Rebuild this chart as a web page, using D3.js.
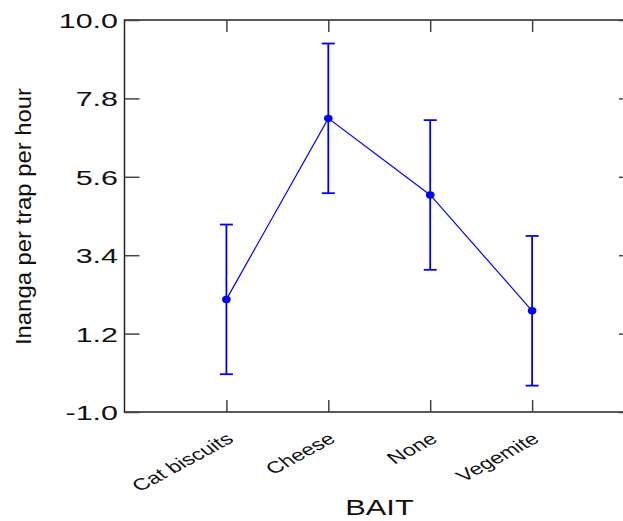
<!DOCTYPE html>
<html>
<head>
<meta charset="utf-8">
<script src="https://cdn.jsdelivr.net/npm/d3@7"></script>
<style>
  html, body { margin: 0; padding: 0; background: #fff; }
  svg { display: block; font-family: "Liberation Sans", Arial, sans-serif; }
</style>
</head>
<body>
<svg id="chart" width="623" height="521"></svg>
<script>
// Bait types and mean catch with error half-widths
const baits = ["Cat biscuits", "Cheese", "None", "Vegemite"];
const means = [2.16, 7.24, 5.09, 1.84];
const errs = [2.1, 2.1, 2.1, 2.1];
const yTicks = [-1.0, 1.2, 3.4, 5.6, 7.8, 10.0];

const svg = d3.select("#chart");
const plotL = 124.5, plotR = 634, plotT = 20, plotB = 412;
const blue = "#0000ff";
const textStretch = 1.45;

const x = d3.scaleLinear().domain([0, baits.length + 1]).range([plotL, plotR]);
const y = d3.scaleLinear().domain([-1, 10]).range([plotB, plotT]);
const catPos = baits.map((_, i) => i + 1);

// frame
svg.append("rect")
  .attr("x", plotL).attr("y", plotT)
  .attr("width", plotR - plotL).attr("height", plotB - plotT)
  .attr("fill", "none").attr("stroke", "#222").attr("stroke-width", 1.5);

function styleAxis(g) {
  g.select(".domain").remove();
  g.selectAll(".tick line").attr("stroke", "#444").attr("stroke-width", 1.5);
}

// left axis with labels
svg.append("g")
  .attr("transform", `translate(${plotL},0)`)
  .call(d3.axisLeft(y).tickValues(yTicks).tickSize(-15).tickSizeOuter(0)
    .tickFormat(d => d.toFixed(1)))
  .call(styleAxis)
  .call(g => g.selectAll(".tick text")
    .attr("x", null).attr("dy", "0.36em")
    .attr("transform", `translate(-6.5,0) scale(${textStretch},1)`)
    .attr("font-size", 21).attr("fill", "#111")
    .attr("font-family", "'Liberation Sans', Arial, sans-serif"));

// right axis, ticks only
svg.append("g")
  .attr("transform", `translate(${plotR},0)`)
  .call(d3.axisRight(y).tickValues(yTicks).tickSize(-15).tickSizeOuter(0).tickFormat(""))
  .call(styleAxis);

// top axis, ticks only
svg.append("g")
  .attr("transform", `translate(0,${plotT})`)
  .call(d3.axisTop(x).tickValues(catPos).tickSize(-12).tickSizeOuter(0).tickFormat(""))
  .call(styleAxis);

// bottom axis with rotated category labels
svg.append("g")
  .attr("transform", `translate(0,${plotB})`)
  .call(d3.axisBottom(x).tickValues(catPos).tickSize(-12).tickSizeOuter(0)
    .tickFormat(d => baits[d - 1]))
  .call(styleAxis)
  .call(g => g.selectAll(".tick text")
    .attr("y", null).attr("dy", null)
    .attr("text-anchor", "end")
    .attr("transform", "translate(8,29) scale(1.4,1) rotate(-37)")
    .attr("font-size", 16.5).attr("fill", "#111")
    .attr("font-family", "'Liberation Sans', Arial, sans-serif"));

// axis titles
svg.append("text")
  .attr("transform", "translate(30.5,216.5) rotate(-90)")
  .attr("text-anchor", "middle")
  .attr("font-size", 22)
  .attr("textLength", 257).attr("lengthAdjust", "spacingAndGlyphs")
  .attr("fill", "#111")
  .text("Inanga per trap per hour");

svg.append("text")
  .attr("transform", "translate(379.5,515) scale(1.4,1)")
  .attr("text-anchor", "middle")
  .attr("font-size", 22)
  .attr("fill", "#111")
  .text("BAIT");

// data
const data = baits.map((b, i) => ({ pos: i + 1, mean: means[i], err: errs[i] }));

// connecting line
svg.append("path")
  .datum(data)
  .attr("fill", "none").attr("stroke", blue).attr("stroke-width", 1.2)
  .attr("d", d3.line().x(d => x(d.pos)).y(d => y(d.mean)));

// error bars
const eb = svg.append("g").attr("stroke", blue).attr("stroke-width", 1.8);
eb.selectAll("line.v").data(data).join("line").attr("class", "v")
  .attr("x1", d => x(d.pos)).attr("x2", d => x(d.pos))
  .attr("y1", d => y(d.mean + d.err)).attr("y2", d => y(d.mean - d.err));
eb.selectAll("line.top").data(data).join("line").attr("class", "top")
  .attr("x1", d => x(d.pos) - 6.5).attr("x2", d => x(d.pos) + 6.5)
  .attr("y1", d => y(d.mean + d.err)).attr("y2", d => y(d.mean + d.err));
eb.selectAll("line.bot").data(data).join("line").attr("class", "bot")
  .attr("x1", d => x(d.pos) - 6.5).attr("x2", d => x(d.pos) + 6.5)
  .attr("y1", d => y(d.mean - d.err)).attr("y2", d => y(d.mean - d.err));

// mean markers
svg.append("g").selectAll("ellipse").data(data).join("ellipse")
  .attr("cx", d => x(d.pos)).attr("cy", d => y(d.mean))
  .attr("rx", 4.3).attr("ry", 3.7)
  .attr("fill", blue);
</script>
</body>
</html>
